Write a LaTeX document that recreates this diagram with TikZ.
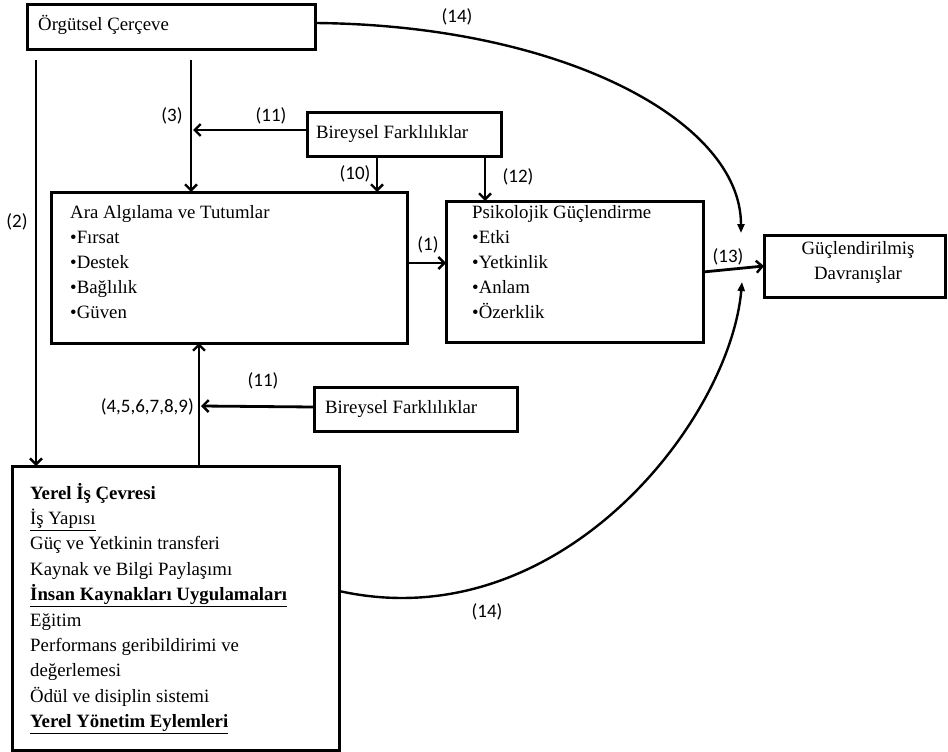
\documentclass[tikz,border=0pt]{standalone}
\usepackage{fontspec}
\setmainfont{Liberation Serif}
\newfontfamily\labfont{Carlito}
\usetikzlibrary{arrows.meta}
\begin{document}
\begin{tikzpicture}[x=1pt,y=-1pt,
  box/.style={draw, line width=3pt, inner sep=0},
  txt/.style={anchor=base west, inner sep=0, font=\fontsize{18.8}{22}\selectfont},
  ctxt/.style={anchor=base, inner sep=0, font=\fontsize{18.8}{22}\selectfont},
  lbl/.style={inner sep=0, font=\labfont\fontsize{19}{22}\selectfont},
  arr/.style={line width=2.8pt, -{Straight Barb[length=6pt,width=12pt,line width=2.4pt]}},
  carr/.style={line width=2.4pt, -{Triangle[length=9pt,width=7pt]}}
]
\useasboundingbox (0,0) rectangle (948,752);
% boxes
\node[box, minimum width=288pt, minimum height=45pt] (org) at (171,27.5) {};
\node[box, minimum width=194pt, minimum height=44pt] (bf1) at (404,134) {};
\node[box, minimum width=356pt, minimum height=151pt] (ara) at (229,267.5) {};
\node[box, minimum width=257pt, minimum height=141pt] (psi) at (574.5,271.5) {};
\node[box, minimum width=181pt, minimum height=62pt] (gd) at (854.5,266) {};
\node[box, minimum width=203pt, minimum height=44pt] (bf2) at (415.5,409) {};
\node[box, minimum width=327pt, minimum height=284pt] (yer) at (175.5,608) {};
% texts
\node[txt] (orgt) at (38,31) {Örgütsel Çerçeve};
\node[txt] (bf1t) at (316,138) {Bireysel Farklılıklar};
\node[txt] (bf2t) at (325,413) {Bireysel Farklılıklar};
\node[ctxt] (gdt1) at (858,254) {Güçlendirilmiş};
\node[ctxt] (gdt2) at (858,279) {Davranışlar};
\foreach \t [count=\i] in {Ara Algılama ve Tutumlar, •Fırsat, •Destek, •Bağlılık, •Güven}
  \node[txt] (arat\i) at (70,{218+(\i-1)*25}) {\t};
\foreach \t [count=\i] in {Psikolojik Güçlendirme, •Etki, •Yetkinlik, •Anlam, •Özerklik}
  \node[txt] (psit\i) at (472,{218+(\i-1)*25}) {\t};
\foreach \t [count=\i] in {{\textbf{Yerel İş Çevresi}}, {\underline{İş Yapısı}}, Güç ve Yetkinin transferi, Kaynak ve Bilgi Paylaşımı, {\underline{\textbf{İnsan Kaynakları Uygulamaları}}}, Eğitim, Performans geribildirimi ve, değerlemesi, Ödül ve disiplin sistemi, {\underline{\textbf{Yerel Yönetim Eylemleri}}}}
  \node[txt] (yert\i) at (30,{499+(\i-1)*25.4}) {\t};
% coordinates
\coordinate (c2s) at (36,60);
\coordinate (c2e) at (36,466);
\coordinate (c3s) at (191,60);
\coordinate (c3e) at (191,192);
\coordinate (c11s) at (307,130);
\coordinate (c11e) at (193,130);
\coordinate (c10s) at (377,156);
\coordinate (c10e) at (377,192);
\coordinate (c12s) at (485,156);
\coordinate (c12e) at (485,201);
\coordinate (c1s) at (407,263);
\coordinate (c1e) at (446,263);
\coordinate (c13s) at (703,272);
\coordinate (c13e) at (764,266);
\coordinate (c49s) at (199,466);
\coordinate (c49e) at (199,343);
\coordinate (c11bs) at (314,407);
\coordinate (c11be) at (201,406);
\coordinate (c14s) at (315,23);
\coordinate (c14e) at (741,233);
\coordinate (c14bs) at (339,591);
\coordinate (c14be) at (742,282);
% connectors
\draw[arr] (c2s) -- (c2e);
\draw[arr] (c3s) -- (c3e);
\draw[arr] (c11s) -- (c11e);
\draw[arr] (c10s) -- (c10e);
\draw[arr] (c12s) -- (c12e);
\draw[arr] (c1s) -- (c1e);
\draw[arr] (c13s) -- (c13e);
\draw[arr] (c49s) -- (c49e);
\draw[arr] (c11bs) -- (c11be);
\draw[carr] (c14s) .. controls (560,25) and (741,120) .. (c14e);
\draw[carr] (c14bs) .. controls (560,640) and (730,420) .. (c14be);
% labels
\node[lbl] (l2) at (17,222) {(2)};
\node[lbl] (l3) at (172,116) {(3)};
\node[lbl] (l11a) at (271,116) {(11)};
\node[lbl] (l10) at (355,174) {(10)};
\node[lbl] (l12) at (518,177) {(12)};
\node[lbl] (l1) at (428,245) {(1)};
\node[lbl] (l13) at (728,257) {(13)};
\node[lbl] (l14a) at (457,17) {(14)};
\node[lbl] (l14b) at (487,612) {(14)};
\node[lbl] (l11b) at (263,381) {(11)};
\node[lbl, anchor=east] (l49) at (194,407) {(4,5,6,7,8,9)};
\end{tikzpicture}
\end{document}
